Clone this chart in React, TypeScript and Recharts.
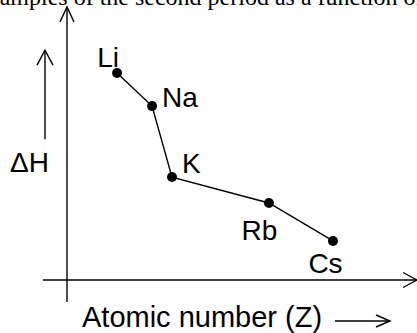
import React from 'react';
import { LineChart, Line, XAxis, YAxis, ReferenceLine, LabelList } from 'recharts';

// Alkali metals plotted against atomic number (schematic units, not to scale)
const elements = ['Li', 'Na', 'K', 'Rb', 'Cs'];
const zPosition = [14.3, 24.3, 30.0, 57.7, 76.0];
const deltaH = [75.8, 63.7, 37.7, 28.2, 14.3];

const data = elements.map((el, i) => ({ el, z: zPosition[i], dh: deltaH[i] }));

// where each symbol sits relative to its point
const labelPlacement: Record<string, { dx: number; dy: number; anchor: 'start' | 'middle' | 'end' }> = {
  Li: { dx: -9, dy: -6, anchor: 'middle' },
  Na: { dx: 10, dy: 1, anchor: 'start' },
  K: { dx: 10, dy: -4, anchor: 'start' },
  Rb: { dx: -9.5, dy: 37, anchor: 'middle' },
  Cs: { dx: -7.5, dy: 32, anchor: 'middle' },
};

const SANS = '"Liberation Sans", Arial, sans-serif';
const SERIF = '"Liberation Serif", "Times New Roman", serif';
const INK = '#000';

function arrowHead(x: number, y: number, ux: number, uy: number, back: number, half: number) {
  // open "V" head pointing along (ux, uy)
  const bx = x - ux * back;
  const by = y - uy * back;
  const px = -uy * half;
  const py = ux * half;
  return `M${bx + px},${by + py} L${x},${y} L${bx - px},${by - py}`;
}

function Arrow(props: any) {
  const { x1, y1, x2, y2, back = 15, half = 7.5, children } = props;
  const len = Math.hypot(x2 - x1, y2 - y1) || 1;
  const ux = (x2 - x1) / len;
  const uy = (y2 - y1) / len;
  return (
    <g>
      <line x1={x1} y1={y1} x2={x2} y2={y2} stroke={INK} strokeWidth={1.4} />
      <path d={arrowHead(x2, y2, ux, uy, back, half)} fill="none" stroke={INK} strokeWidth={1.4} />
      {children}
    </g>
  );
}

function XAxisArrow(props: any) {
  const { x1, y1 } = props;
  return (
    <Arrow {...props} back={14} half={7.5}>
      <text x={x1 + 39} y={y1 + 47} fontFamily={SANS} fontSize={29} fill={INK}>
        Atomic number (Z)
      </text>
      <Arrow x1={x1 + 292} y1={y1 + 41} x2={x1 + 347} y2={y1 + 41} back={14} half={6} />
    </Arrow>
  );
}

function YAxisArrow(props: any) {
  return <Arrow {...props} back={15} half={7} />;
}

function DeltaHArrow(props: any) {
  const { x1, y1 } = props;
  return (
    <Arrow {...props} back={15} half={8}>
      <text x={x1 - 35} y={y1 + 33} fontFamily={SANS} fontSize={28} fill={INK}>
        ΔH
      </text>
    </Arrow>
  );
}

function SymbolLabel(props: any) {
  const { index } = props;
  const x = props.x ?? props.viewBox?.x;
  const y = props.y ?? props.viewBox?.y;
  const el = elements[index];
  const p = labelPlacement[el];
  return (
    <text x={x + p.dx} y={y + p.dy} textAnchor={p.anchor} fontFamily={SANS} fontSize={28} fill={INK}>
      {el}
    </text>
  );
}

export default function App() {
  return (
    <div style={{ position: 'absolute', left: 0, top: 0, width: 417, height: 333, background: '#fff' }}>
      <svg width={417} height={333} style={{ position: 'absolute', left: 0, top: 0, pointerEvents: 'none' }}>
        <text x={-23} y={5} fontFamily={SERIF} fontSize={24} fill={INK}>
          examples of the second period as a function of atomic number
        </text>
      </svg>
      <LineChart width={417} height={333} data={data} margin={{ top: 7, right: 0, bottom: 53, left: 67 }}>
        <XAxis type="number" dataKey="z" domain={[0, 100]} allowDataOverflow hide />
        <YAxis type="number" domain={[0, 100]} allowDataOverflow hide />
        <ReferenceLine
          segment={[{ x: -6.86, y: 0 }, { x: 100, y: 0 }]}
          ifOverflow="visible"
          shape={XAxisArrow}
        />
        <ReferenceLine
          segment={[{ x: 0, y: -8.06 }, { x: 0, y: 100 }]}
          ifOverflow="visible"
          shape={YAxisArrow}
        />
        <ReferenceLine
          segment={[{ x: -6.29, y: 51.6 }, { x: -6.29, y: 84.2 }]}
          ifOverflow="visible"
          shape={DeltaHArrow}
        />
        <Line
          type="linear"
          dataKey="dh"
          stroke={INK}
          strokeWidth={1.4}
          dot={{ r: 5, fill: INK, stroke: 'none' }}
          activeDot={false}
          isAnimationActive={false}
        >
          <LabelList dataKey="el" content={SymbolLabel} />
        </Line>
      </LineChart>
    </div>
  );
}
